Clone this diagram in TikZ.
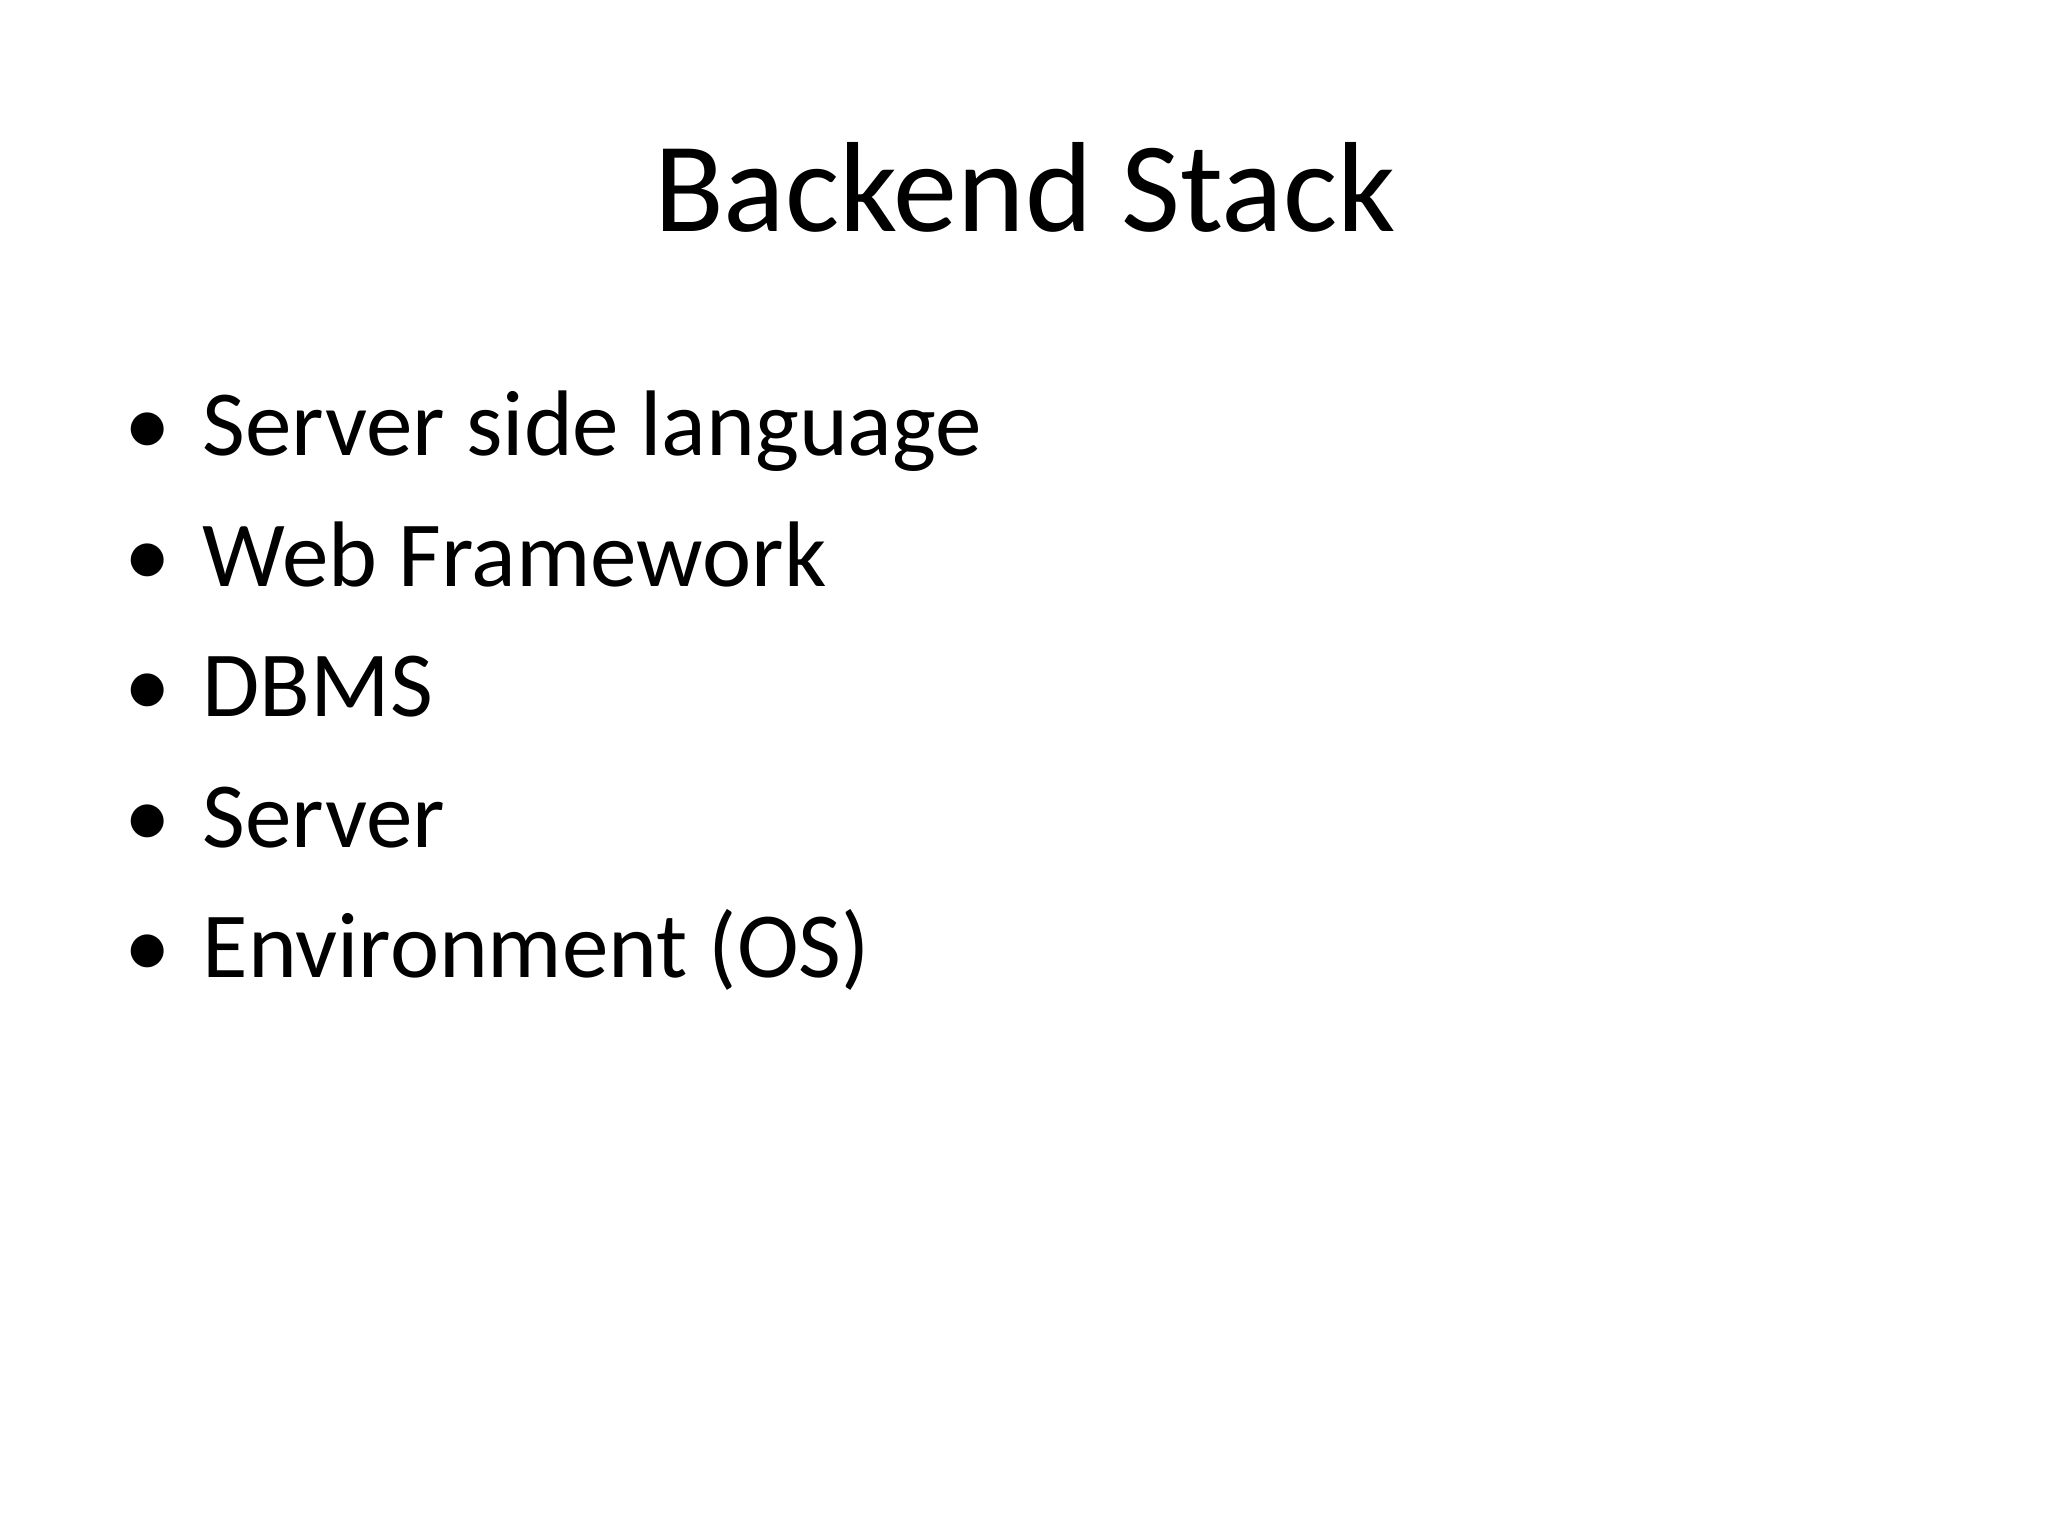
\documentclass[tikz,border=0pt]{standalone}
\usepackage{fontspec}
\setmainfont{Carlito}
\begin{document}
\begin{tikzpicture}[yscale=-1,
  item/.style={anchor=base west,inner sep=0pt,font=\fontsize{26.5}{30}\selectfont},
  dot/.style={anchor=base west,inner sep=0pt,font=\fontsize{26.5}{30}\selectfont}]
\useasboundingbox (0,0) rectangle (20.48,15.36);
\node[anchor=base,inner sep=0pt,font=\fontsize{36.5}{40}\selectfont] (title) at (10.25,2.32) {Backend Stack};
\foreach \t [count=\i] in {Server side language,Web Framework,DBMS,Server,Environment (OS)}{
  \node[dot] (b\i) at (1.24,{4.56+(\i-1)*1.305}) {•};
  \node[item] (t\i) at (2.02,{4.56+(\i-1)*1.305}) {\t};
}
\end{tikzpicture}
\end{document}
